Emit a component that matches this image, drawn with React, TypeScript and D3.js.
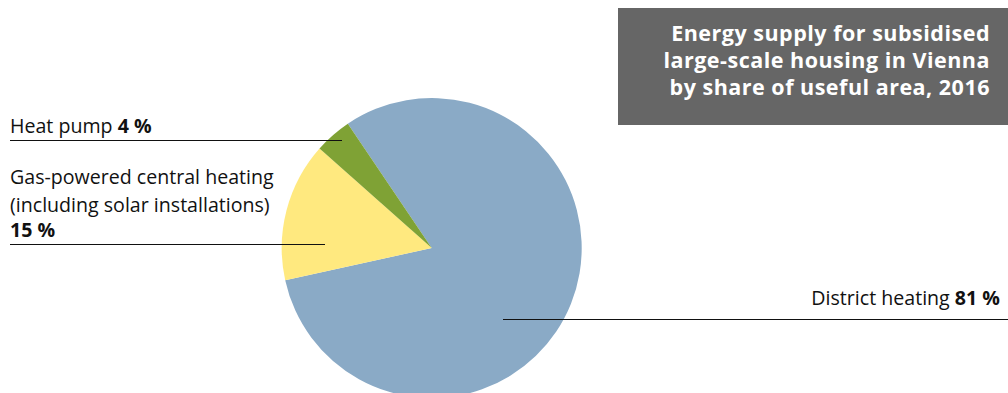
import React from "react";
import * as d3 from "d3";

const categories = ["District heating", "Gas-powered central heating", "Heat pump"];
const shares = [81, 15, 4];
const colors = ["#8aaac6", "#ffe97f", "#7fa235"];
const titleLines = [
  "Energy supply for subsidised",
  "large-scale housing in Vienna",
  "by share of useful area, 2016",
];

const W = 1008;
const H = 393;
const FONT = "'Open Sans', sans-serif";
const LABEL_SIZE = 19.6;

export default function App() {
  const cx = 431.7;
  const cy = 248;
  const r = 150;
  const start = (-34 * Math.PI) / 180;
  const pie = d3
    .pie<number>()
    .sort(null)
    .value((d) => d)
    .startAngle(start)
    .endAngle(start + 2 * Math.PI);
  const arcs = pie(shares);
  const arc = d3.arc<d3.PieArcDatum<number>>().innerRadius(0).outerRadius(r);

  return (
    <svg
      width={W}
      height={H}
      style={{ position: "absolute", left: 0, top: 0 }}
      fontFamily={FONT}
    >
      <g transform={`translate(${cx},${cy})`}>
        {arcs.map((a, i) => (
          <path key={categories[i]} d={arc(a) || ""} fill={colors[i]} />
        ))}
      </g>

      {/* title box */}
      <rect x={618} y={8} width={W - 618} height={117} fill="#666666" />
      {titleLines.map((t, i) => (
        <text
          key={t}
          x={990}
          y={41 + i * 27}
          textAnchor="end"
          fill="#ffffff"
          fontWeight={700}
          fontSize={21.5}
          letterSpacing={0.5}
        >
          {t}
        </text>
      ))}

      {/* Heat pump label */}
      <text x={10} y={133} fontSize={LABEL_SIZE} fill="#111">
        Heat pump <tspan fontWeight={700}>{shares[2]} %</tspan>
      </text>
      <line x1={10} x2={342} y1={140.5} y2={140.5} stroke="#111" strokeWidth={1} />

      {/* Gas label */}
      <text x={10} y={184} fontSize={LABEL_SIZE} fill="#111">
        Gas-powered central heating
      </text>
      <text x={10} y={212} fontSize={LABEL_SIZE} fill="#111">
        (including solar installations)
      </text>
      <text x={10} y={237} fontSize={LABEL_SIZE} fill="#111" fontWeight={700}>
        {shares[1]} %
      </text>
      <line x1={10} x2={325} y1={244.5} y2={244.5} stroke="#111" strokeWidth={1} />

      {/* District heating label */}
      <text x={1000} y={305} fontSize={LABEL_SIZE} fill="#111" textAnchor="end">
        District heating <tspan fontWeight={700}>{shares[0]} %</tspan>
      </text>
      <line x1={503} x2={W} y1={319.5} y2={319.5} stroke="#111" strokeWidth={1} />
    </svg>
  );
}
